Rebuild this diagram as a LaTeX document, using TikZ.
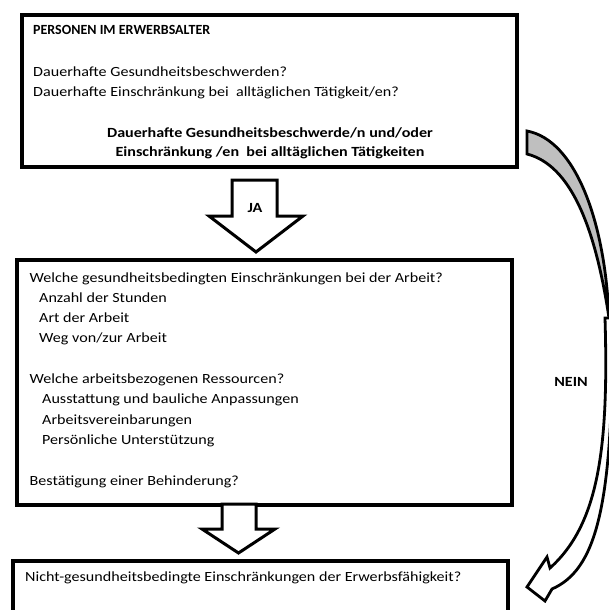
\documentclass[tikz,border=0pt]{standalone}
\usepackage{fontspec}
\setmainfont{Carlito}[FakeStretch=1.15]
\newfontfamily\titlefont{Carlito}
\usepackage{tikz}
\usetikzlibrary{calc}
\definecolor{ribbongray}{RGB}{191,191,191}
\tikzset{
	boxstyle/.style={rectangle,draw=black,line width=3.2pt,fill=white,minimum width=495pt,inner sep=0pt},
	linestyle/.style={anchor=base west,inner sep=0pt},
	boldstyle/.style={anchor=base,inner sep=0pt,font=\bfseries},
	arrowstyle/.style={draw=black,line width=3pt,fill=white,line join=miter}
}

\begin{document}
\begin{tikzpicture}[x=1pt,y=-1pt]
		\fontsize{14}{20.3}\selectfont
		\clip (0,0) rectangle (609,610);
		\node[boxstyle,minimum height=152pt] (pers) at (269.5,91) {};
		\node[boxstyle,minimum height=245pt] (arbeit) at (264.5,382.5) {};
		\node[boxstyle,minimum height=100pt] (nicht) at (260.5,611) {};
		\node[linestyle,font=\titlefont\bfseries] (titel) at (33,35) {PERSONEN IM ERWERBSALTER};
		\node[linestyle] (gesund) at (33,76) {Dauerhafte Gesundheitsbeschwerden?};
		\node[linestyle] (alltag) at (33,96.5) {Dauerhafte Einschränkung bei\ \ alltäglichen Tätigkeit/en?};
		\node[boldstyle] (fazit1) at (270,137.5) {Dauerhafte Gesundheitsbeschwerde/n und/oder};
		\node[boldstyle] (fazit2) at (270,156.5) {Einschränkung /en\ \ bei alltäglichen Tätigkeiten};
		\node[linestyle] (welche) at (29.5,282) {Welche gesundheitsbedingten Einschränkungen bei der Arbeit?};
		\node[linestyle] (stunden) at (39,302.3) {Anzahl der Stunden};
		\node[linestyle] (art) at (39,322.6) {Art der Arbeit};
		\node[linestyle] (weg) at (39,342.9) {Weg von/zur Arbeit};
		\node[linestyle] (ressourcen) at (29.5,383.5) {Welche arbeitsbezogenen Ressourcen?};
		\node[linestyle] (ausstattung) at (42,403.8) {Ausstattung und bauliche Anpassungen};
		\node[linestyle] (vereinbarung) at (42,424.1) {Arbeitsvereinbarungen};
		\node[linestyle] (hilfe) at (42,444.4) {Persönliche Unterstützung};
		\node[linestyle] (behinderung) at (29.5,485) {Bestätigung einer Behinderung?};
		\node[linestyle] (erwerb) at (25,581.7) {Nicht-gesundheitsbedingte Einschränkungen der Erwerbsfähigkeit?};
		% block arrows
		\draw[arrowstyle] (232,180) -- (277,180) -- (277,216) -- (303,216) -- (256,252) -- (209,216) -- (232,216) -- cycle;
		\node[boldstyle] (ja) at (255,212.5) {JA};
		\draw[arrowstyle] (222,504) -- (256,504) -- (256,529) -- (275,529) -- (238.5,553) -- (202,529) -- (222,529) -- cycle;
		% curved arrow
		\draw[arrowstyle,line width=2.8pt,fill=ribbongray] (527,131) .. controls (575,140) and (605,220) .. (609,318)
			.. controls (595,225) and (570,165) .. (527,154) -- cycle;
		\draw[arrowstyle,line width=2.8pt] (605,318) .. controls (609,450) and (598,525) .. (550,568) -- (547,557) -- (527,587)
			-- (545,601) -- (552,589) .. controls (595,570) and (614,510) .. (612,318) -- cycle;
		\node[boldstyle] (nein) at (571,386.5) {NEIN};
\end{tikzpicture}
\end{document}
